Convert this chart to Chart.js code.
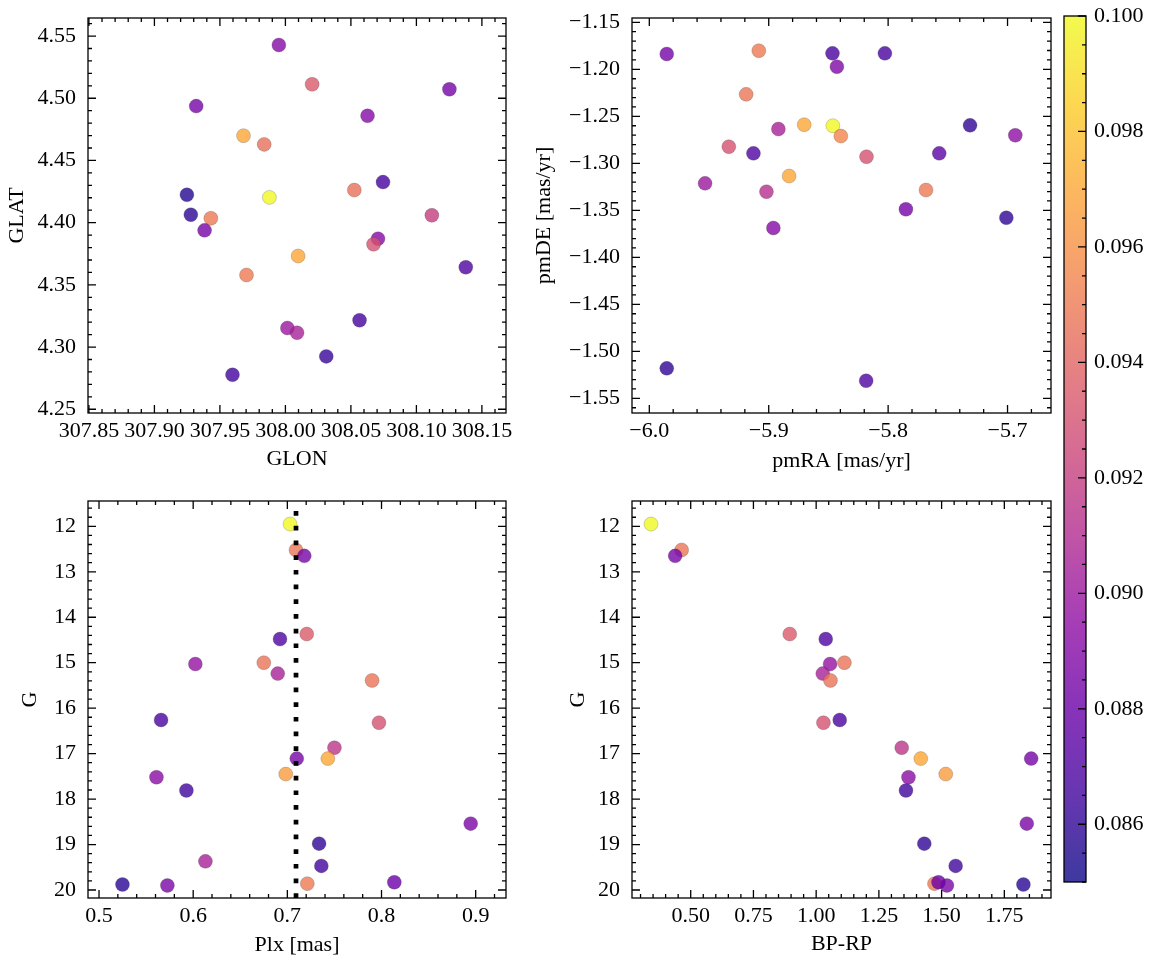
<!DOCTYPE html>
<html>
<head>
<meta charset="utf-8">
<script src="https://cdn.jsdelivr.net/npm/chart.js@4.4.1/dist/chart.umd.min.js"></script>
<style>
  html, body { margin: 0; padding: 0; background: #fff; }
  #fig { position: relative; width: 1155px; height: 965px; overflow: hidden; }
  #fig canvas { position: absolute; }
</style>
</head>
<body>
<div id="fig">
  <canvas id="tl" width="560" height="480" style="left:0;top:0"></canvas>
  <canvas id="tr" width="560" height="480" style="left:520px;top:0"></canvas>
  <canvas id="bl" width="560" height="485" style="left:0;top:480px"></canvas>
  <canvas id="br" width="560" height="485" style="left:520px;top:480px"></canvas>
  <canvas id="cb" width="115" height="900" style="left:1040px;top:0"></canvas>
</div>
<script>
// colour scale range
const cMin = 0.085, cMax = 0.100;

// top left: GLON / GLAT
const glon = [307.995, 308.0204, 308.1252, 307.9319, 308.0627, 307.968, 307.9838, 308.0745, 308.0526,
  307.9248, 307.9878, 307.9278, 307.9431, 308.1118, 307.9383, 308.0707, 308.0673, 308.0097, 308.1377,
  307.9703, 308.0566, 308.0015, 308.0089, 308.0312, 307.9596];
const glat = [4.5428, 4.5112, 4.5072, 4.4937, 4.4859, 4.4699, 4.4629, 4.4326, 4.4262,
  4.4224, 4.4203, 4.4064, 4.4035, 4.4059, 4.3938, 4.3871, 4.3826, 4.3732, 4.3641,
  4.3579, 4.3215, 4.3153, 4.3115, 4.2925, 4.2777];
const posC = [0.0890, 0.0935, 0.0885, 0.0885, 0.0890, 0.0970, 0.0945, 0.0867, 0.0945,
  0.0857, 0.1000, 0.0858, 0.0950, 0.0920, 0.0885, 0.0890, 0.0930, 0.0970, 0.0870,
  0.0950, 0.0867, 0.0900, 0.0905, 0.0863, 0.0866];

// top right: proper motions
const pmra = [-5.9854, -5.9083, -5.8466, -5.8027, -5.8429, -5.9189, -5.8703, -5.8463, -5.8396,
  -5.7314, -5.6935, -5.8919, -5.9334, -5.9128, -5.8181, -5.7572, -5.8829, -5.9533, -5.9019,
  -5.7683, -5.7851, -5.8961, -5.7010, -5.9854, -5.8184];
const pmde = [-1.1837, -1.1802, -1.1830, -1.1830, -1.1972, -1.2266, -1.2589, -1.2600, -1.2710,
  -1.2596, -1.2702, -1.2635, -1.2823, -1.2894, -1.2930, -1.2894, -1.3135, -1.3213, -1.3302,
  -1.3284, -1.3489, -1.3688, -1.3579, -1.5181, -1.5313];
const pmC = [0.0885, 0.0950, 0.0868, 0.0868, 0.0888, 0.0948, 0.0970, 0.1000, 0.0955,
  0.0860, 0.0895, 0.0905, 0.0930, 0.0870, 0.0930, 0.0875, 0.0970, 0.0900, 0.0912,
  0.0950, 0.0885, 0.0890, 0.0860, 0.0860, 0.0870];

// bottom: same stars in both panels (one star has no BP-RP)
const gMag = [11.95, 12.52, 12.65, 14.48, 14.37, 15.03, 15.00, 15.24, 15.39, 16.26, 16.32, 16.87, 17.11,
  17.11, 17.45, 17.52, 17.81, 18.54, 18.98, 19.47, 19.37, 19.88, 19.90, 19.86, 19.83];
const plx = [0.7029, 0.7092, 0.7180, 0.6922, 0.7206, 0.6023, 0.6750, 0.6898, 0.7900, 0.5659, 0.7973, 0.7500, 0.7100,
  0.7430, 0.6983, 0.5610, 0.5928, 0.8947, 0.7337, 0.7361, 0.6130, 0.5249, 0.5726, 0.7212, 0.8136];
const bpRp = [0.3417, 0.4638, 0.4380, 1.0382, 0.8948, 1.0554, 1.1126, 1.0263, 1.0570, 1.0940, 1.0290, 1.3410, 1.8570,
  1.4170, 1.5165, 1.3680, 1.3580, 1.8395, 1.4310, 1.5560, null, 1.8260, 1.5211, 1.4716, 1.4876];
const photC = [0.1000, 0.0948, 0.0885, 0.0870, 0.0935, 0.0897, 0.0947, 0.0905, 0.0947, 0.0868, 0.0930, 0.0915, 0.0885,
  0.0970, 0.0965, 0.0893, 0.0865, 0.0887, 0.0860, 0.0865, 0.0905, 0.0858, 0.0887, 0.0950, 0.0880];
const plxRef = 0.7092;

// tick labels
const glonTicks = [307.85, 307.90, 307.95, 308.00, 308.05, 308.10, 308.15];
const glatTicks = [4.25, 4.30, 4.35, 4.40, 4.45, 4.50, 4.55];
const pmraTicks = [-6.0, -5.9, -5.8, -5.7];
const pmdeTicks = [-1.55, -1.50, -1.45, -1.40, -1.35, -1.30, -1.25, -1.20, -1.15];
const plxTicks = [0.5, 0.6, 0.7, 0.8, 0.9];
const gTicks = [12, 13, 14, 15, 16, 17, 18, 19, 20];
const bprpTicks = [0.50, 0.75, 1.00, 1.25, 1.50, 1.75];
const cTicks = [0.086, 0.088, 0.090, 0.092, 0.094, 0.096, 0.098, 0.100];

const FONT = 'Liberation Serif';
const FS = 22;
const ALPHA = 0.8;
const MAJOR = 8, MINOR = 4;

// matplotlib plasma, 11 samples
const PLASMA = ['#0d0887', '#41049d', '#6a00a8', '#8f0da4', '#b12a90', '#cc4778',
  '#e16462', '#f2844b', '#fca636', '#fcce25', '#f0f921'];
function hexRgb(h) {
  return [parseInt(h.slice(1, 3), 16), parseInt(h.slice(3, 5), 16), parseInt(h.slice(5, 7), 16)];
}
function plasmaT(t, a) {
  t = Math.max(0, Math.min(1, t));
  const f = t * 10, i = Math.min(9, Math.floor(f)), w = f - i;
  const c0 = hexRgb(PLASMA[i]), c1 = hexRgb(PLASMA[i + 1]);
  const c = c0.map((v, k) => Math.round(v + (c1[k] - v) * w));
  return `rgba(${c[0]},${c[1]},${c[2]},${a})`;
}
function cmap(v) { return plasmaT((v - cMin) / (cMax - cMin), ALPHA); }

function fmt(v, d) { return v.toFixed(d).replace('-', '\u2212'); }

// inward ticks on all sides, frame, optional reference line / colour gradient
const axesFrame = {
  id: 'axesFrame',
  beforeDatasetsDraw(chart, args, o) {
    if (!o.gradient) return;
    const { ctx, chartArea: a } = chart;
    const g = ctx.createLinearGradient(0, a.bottom, 0, a.top);
    for (let k = 0; k <= 40; k++) g.addColorStop(k / 40, plasmaT(k / 40, ALPHA));
    ctx.save();
    ctx.fillStyle = g;
    ctx.fillRect(a.left, a.top, a.right - a.left, a.bottom - a.top);
    ctx.restore();
  },
  afterDatasetsDraw(chart, args, o) {
    const { ctx, chartArea: a } = chart;
    ctx.save();
    if (o.refX != null) {
      const px = chart.scales.x.getPixelForValue(o.refX);
      ctx.beginPath();
      ctx.setLineDash([4.7, 10]);
      ctx.lineWidth = 4.7;
      ctx.lineCap = 'butt';
      ctx.strokeStyle = '#000';
      ctx.moveTo(px, a.bottom);
      ctx.lineTo(px, a.top);
      ctx.stroke();
      ctx.setLineDash([]);
    }
    ctx.lineWidth = 1.3;
    ctx.strokeStyle = '#000';
    ctx.beginPath();
    ['x', 'y'].forEach(id => {
      const cfg = o[id];
      const sc = chart.scales[id];
      if (!cfg || !sc) return;
      const marks = sc.ticks.map(t => [t.value, MAJOR]);
      const s = cfg.minor;
      for (let k = Math.ceil(sc.min / s - 1e-6); k * s <= sc.max + 1e-9; k++) {
        const v = k * s;
        if (sc.ticks.some(t => Math.abs(t.value - v) < s / 10)) continue;
        marks.push([v, MINOR]);
      }
      marks.forEach(([v, len]) => {
        const p = sc.getPixelForValue(v);
        if (id === 'x') {
          ctx.moveTo(p, a.bottom); ctx.lineTo(p, a.bottom - len);
          ctx.moveTo(p, a.top); ctx.lineTo(p, a.top + len);
        } else {
          if (cfg.sides.includes('l')) { ctx.moveTo(a.left, p); ctx.lineTo(a.left + len, p); }
          if (cfg.sides.includes('r')) { ctx.moveTo(a.right, p); ctx.lineTo(a.right - len, p); }
        }
      });
    });
    ctx.stroke();
    ctx.strokeRect(a.left, a.top, a.right - a.left, a.bottom - a.top);
    ctx.restore();
  }
};

function axis(o) {
  return {
    type: 'linear',
    display: o.display !== false,
    position: o.position,
    min: o.min,
    max: o.max,
    reverse: !!o.reverse,
    grid: { display: false, drawTicks: false },
    border: { display: false },
    ticks: {
      autoSkip: false, maxRotation: 0, minRotation: 0, padding: o.pad, color: '#000',
      font: { family: FONT, size: FS },
      callback: v => fmt(v, o.dec)
    },
    afterBuildTicks: s => { s.ticks = o.ticks.map(v => ({ value: v })); },
    afterFit: s => {
      if (s.isHorizontal()) s.height = o.size; else s.width = o.size;
      // keep the plot box where the layout padding puts it
      s.paddingTop = s.paddingBottom = s.paddingLeft = s.paddingRight = 0;
    },
    title: {
      display: !!o.title, text: o.title, color: '#000',
      font: { family: FONT, size: FS },
      padding: { top: o.tpad, bottom: o.tpad }
    }
  };
}

function points(xs, ys, cs) {
  const d = [], col = [];
  xs.forEach((x, i) => {
    if (x == null || ys[i] == null) return;
    d.push({ x: x, y: ys[i] });
    col.push(cmap(cs[i]));
  });
  return {
    data: d,
    backgroundColor: col,
    borderColor: 'rgba(60,60,60,0.45)',
    borderWidth: 0.5,
    pointRadius: 7,
    pointHoverRadius: 7
  };
}

function panel(id, ds, pad, xs, ys, frame) {
  return new Chart(document.getElementById(id), {
    type: 'scatter',
    data: { datasets: ds },
    options: {
      responsive: false,
      animation: false,
      events: [],
      layout: { padding: pad },
      plugins: { legend: { display: false }, tooltip: { enabled: false }, axesFrame: frame },
      scales: { x: xs, y: ys }
    },
    plugins: [axesFrame]
  });
}

panel('tl', [points(glon, glat, posC)], { top: 18, right: 54, left: 0, bottom: 0 },
  axis({ position: 'bottom', min: 307.8493, max: 308.1684, ticks: glonTicks, dec: 2, pad: 5, size: 67, title: 'GLON', tpad: 8 }),
  axis({ position: 'left', min: 4.2470, max: 4.5645, ticks: glatTicks, dec: 2, pad: 12, size: 88, title: 'GLAT', tpad: 4 }),
  { x: { minor: 0.01 }, y: { minor: 0.01, sides: 'lr' } });

panel('tr', [points(pmra, pmde, pmC)], { top: 18, right: 29, left: 0, bottom: 0 },
  axis({ position: 'bottom', min: -6.0145, max: -5.6636, ticks: pmraTicks, dec: 1, pad: 5, size: 67, title: 'pmRA [mas/yr]', tpad: 6 }),
  axis({ position: 'left', min: -1.5656, max: -1.1454, ticks: pmdeTicks, dec: 2, pad: 12, size: 112, title: 'pmDE [mas/yr]', tpad: 11 }),
  { x: { minor: 0.02 }, y: { minor: 0.01, sides: 'lr' } });

panel('bl', [points(plx, gMag, photC)], { top: 21, right: 54, left: 0, bottom: 0 },
  axis({ position: 'bottom', min: 0.4883, max: 0.9322, ticks: plxTicks, dec: 1, pad: 5, size: 67, title: 'Plx [mas]', tpad: 7 }),
  axis({ position: 'left', min: 11.443, max: 20.176, reverse: true, ticks: gTicks, dec: 0, pad: 12, size: 88, title: 'G', tpad: 17 }),
  { x: { minor: 0.02 }, y: { minor: 0.2, sides: 'lr' }, refX: plxRef });

panel('br', [points(bpRp, gMag, photC)], { top: 21, right: 29, left: 0, bottom: 0 },
  axis({ position: 'bottom', min: 0.266, max: 1.936, ticks: bprpTicks, dec: 2, pad: 5, size: 67, title: 'BP-RP', tpad: 8 }),
  axis({ position: 'left', min: 11.443, max: 20.176, reverse: true, ticks: gTicks, dec: 0, pad: 12, size: 112, title: 'G', tpad: 45 }),
  { x: { minor: 0.05 }, y: { minor: 0.2, sides: 'lr' } });

// colour bar
panel('cb', [], { top: 16, left: 24, right: 0, bottom: 18 },
  axis({ display: false, position: 'bottom', min: 0, max: 1, ticks: [], dec: 0, pad: 0, size: 0 }),
  axis({ position: 'right', min: cMin, max: cMax, ticks: cTicks, dec: 3, pad: 8, size: 69 }),
  { y: { minor: 0.0005, sides: 'r' }, gradient: true });
</script>
</body>
</html>
